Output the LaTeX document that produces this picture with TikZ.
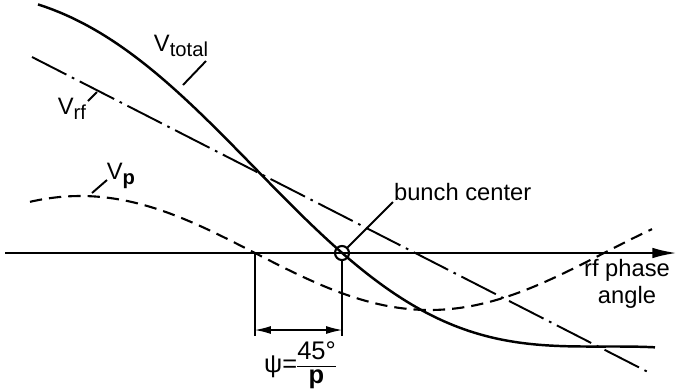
\documentclass[tikz,border=0pt]{standalone}
\usepackage{fontspec}
\setmainfont{Liberation Sans}
\usepackage{tikz}
\usetikzlibrary{arrows.meta,calc,positioning}
\newcommand\lowidx[1]{\raisebox{-0.4ex}{\fontsize{11.5}{12}\selectfont #1}}

\begin{document}
\begin{tikzpicture}[x=0.02cm,y=-0.02cm,>=Latex,
    lbl/.style={inner sep=1pt,font=\fontsize{13.5}{15}\selectfont},
    totalcurve/.style={line width=1.4pt},
    rfcurve/.style={line width=1.1pt,dash pattern=on 22pt off 3.5pt on 1.5pt off 3.5pt},
    pcurve/.style={line width=1.2pt,dash pattern=on 7pt off 4pt},
    leader/.style={line width=1.1pt},
    dimline/.style={line width=0.6pt}]
    \useasboundingbox (0,0) rectangle (677,390);
    % phase axis
    \coordinate (axl) at (5,253);
    \coordinate (axr) at (677,253);
    \draw[line width=1.4pt,-{Latex[length=14pt,width=6pt]}] (axl) -- (axr);
    \node[lbl,align=center] (phase) at (627,284) {rf phase\\angle};
    % voltages
    \draw[rfcurve] (32,57) -- (648,372);
    \draw[pcurve] plot[domain=30:652,samples=90,smooth]
      (\x,{253+57*sin((\x-255)/349*180)});
    \draw[totalcurve] plot[domain=38:655,samples=120,smooth]
      (\x,{253-0.511*(421-\x)+57*sin((\x-255)/349*180)});
    % labels and leaders
    \node[lbl] (vtot) at (181,46) {V\lowidx{total}};
    \coordinate (ptot) at (183,85);
    \coordinate (qtot) at (206,61);
    \draw[leader] (ptot) -- (qtot);
    \node[lbl] (vrf) at (72,109) {V\lowidx{rf}};
    \coordinate (prf) at (97,92);
    \coordinate (qrf) at (88,101);
    \draw[leader] (prf) -- (qrf);
    \node[lbl] (vp) at (121,176) {V\lowidx{\textbf{p}}};
    \coordinate (pp) at (92,193);
    \coordinate (qp) at (107,180);
    \draw[leader] (pp) -- (qp);
    % bunch center
    \node[circle,draw,line width=1.2pt,inner sep=0pt,minimum size=8pt] (bunch) at (342,253) {};
    \node[lbl,anchor=west] (bclbl) at (392,192) {bunch center};
    \coordinate (qb) at (393,202);
    \draw[leader] (bunch.north east) -- (qb);
    % phase offset
    \coordinate (d1) at (255,253);
    \coordinate (d1b) at (255,336);
    \coordinate (d2b) at (342,336);
    \coordinate (a1) at (255,330);
    \coordinate (a2) at (342,330);
    \draw[dimline] (d1) -- (d1b);
    \draw[dimline] (bunch.south) -- (d2b);
    \draw[dimline,{Latex[length=9pt,width=4.5pt]}-{Latex[length=9pt,width=4.5pt]}] (a1) -- (a2);
    \node[lbl,inner sep=0pt,font=\fontsize{14.5}{15}\selectfont] (psi) at (300,366)
      {ψ=\renewcommand\arraystretch{0.9}\begin{tabular}[c]{@{}c@{}}45°\\\hline\textbf{p}\end{tabular}};
  \end{tikzpicture}
\end{document}
